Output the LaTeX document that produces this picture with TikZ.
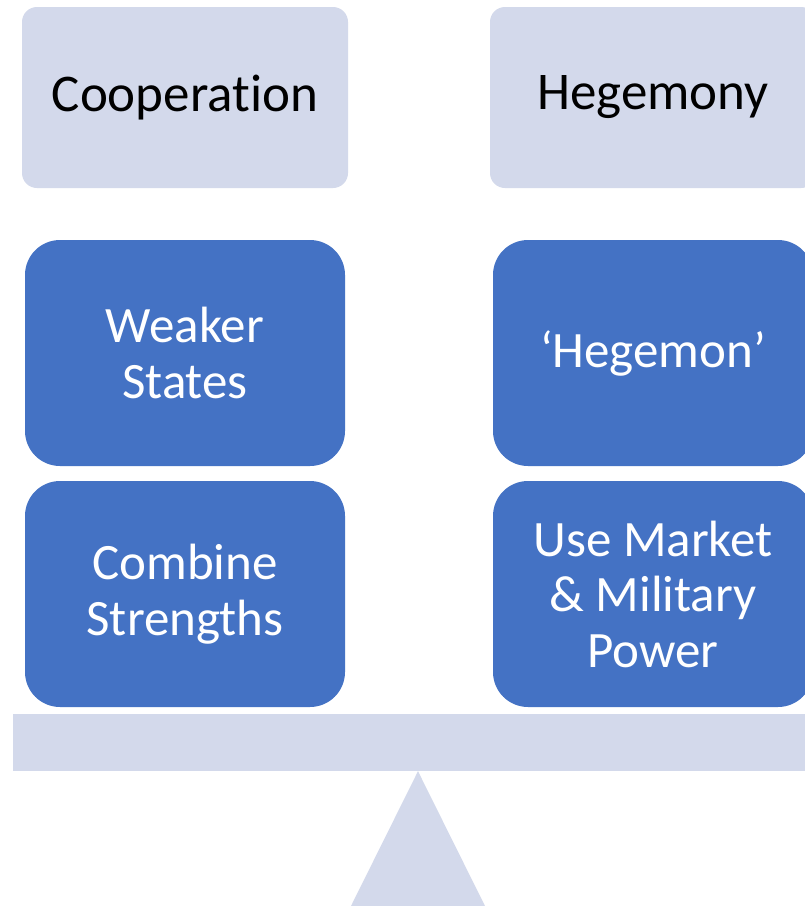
\documentclass[tikz,border=0pt]{standalone}
\usepackage{fontspec}
\setmainfont[Ligatures=NoCommon]{Carlito}
\definecolor{lightbox}{HTML}{D3D9EB}
\definecolor{bluebox}{HTML}{4472C4}
\tikzset{
  headbox/.style={fill=lightbox, draw=none, rounded corners=15pt, minimum width=326pt, minimum height=181pt, inner sep=0pt, align=center, text=black, font=\fontsize{53}{58}\selectfont},
  itembox/.style={fill=bluebox, draw=none, rounded corners=35pt, minimum width=320pt, minimum height=226pt, inner sep=0pt, align=center, text=white, font=\fontsize{51}{55.5}\selectfont},
  beam/.style={fill=lightbox, draw=none, minimum width=810pt, minimum height=57pt, inner sep=0pt},
  fulcrum/.style={fill=lightbox, draw=none}
}
\begin{document}
\begin{tikzpicture}[x=1pt, y=-1pt]
\useasboundingbox (0,0) rectangle (805,906);
\fill[white] (0,0) rectangle (805,906);
\clip (0,0) rectangle (805,906);
\node[headbox] (coop) at (185,97.5) {Cooperation};
\node[headbox] (hege) at (653,97.5) {Hegemony};
\node[itembox] (weak) at (185,353) {Weaker\\States};
\node[itembox] (hegemon) at (653,353) {‘Hegemon’};
\node[itembox] (comb) at (185,594) {Combine\\Strengths};
\node[itembox] (usem) at (653,594) {Use Market\\\& Military\\Power};
\node[beam] (bar) at (418,742.5) {};
\coordinate (apex) at (bar.south);
\coordinate (bl) at (351,906);
\coordinate (br) at (485,906);
\fill[fulcrum] (apex) -- (br) -- (bl) -- cycle;
\end{tikzpicture}
\end{document}
